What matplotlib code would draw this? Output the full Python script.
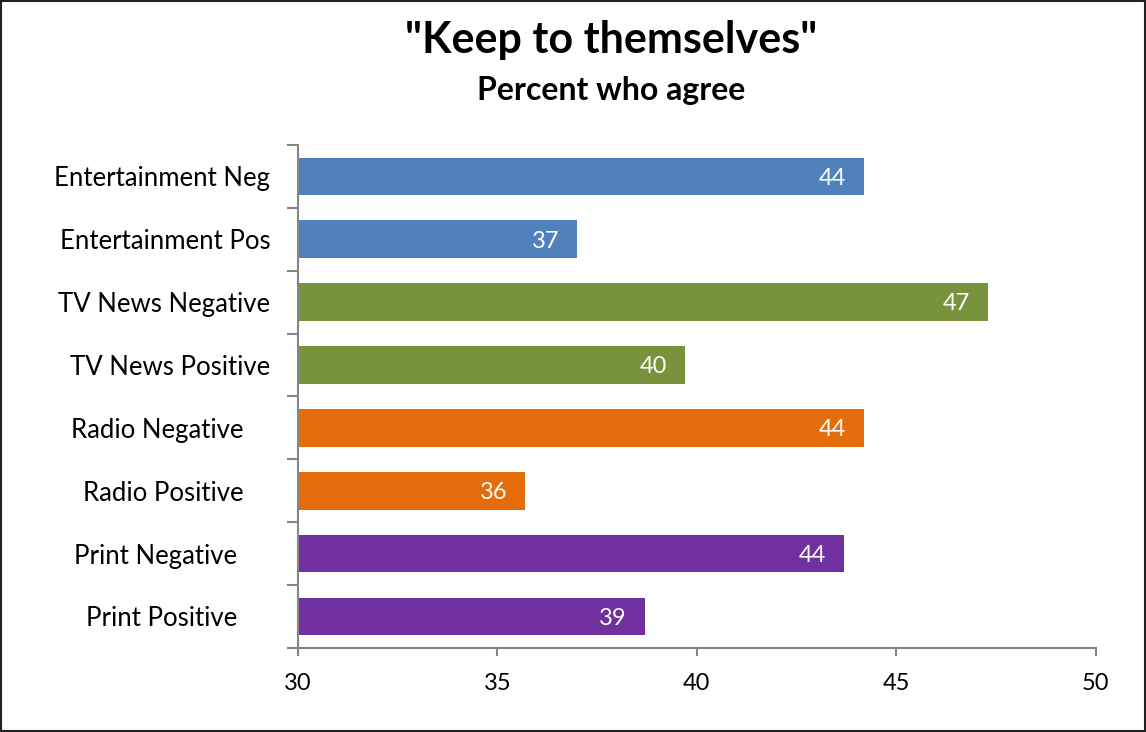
import matplotlib
matplotlib.use("Agg")
import matplotlib.pyplot as plt
from matplotlib.patches import Rectangle

plt.rcParams['font.family'] = ['Lato', 'DejaVu Sans']

# data (top to bottom)
categories = ["Entertainment Neg", "Entertainment Pos", "TV News Negative", "TV News Positive",
              "Radio Negative    ", "Radio Positive    ", "Print Negative     ", "Print Positive     "]
values = [44.2, 37.0, 47.3, 39.7, 44.2, 35.7, 43.7, 38.7]
colors = ["#4F81BD", "#4F81BD", "#77933C", "#77933C",
          "#E46C0A", "#E46C0A", "#7030A0", "#7030A0"]
xticks = [30, 35, 40, 45, 50]

fig = plt.figure(figsize=(11.46, 7.32), dpi=100)
ax = fig.add_axes([0.260, 0.115, 0.696, 0.687])

ypos = list(range(len(categories)))[::-1]
bars = ax.barh(ypos, [v - 30 for v in values], left=30, height=0.6, color=colors)

for y, v in zip(ypos, values):
    ax.text(v - 0.45, y - 0.03, "%d" % round(v), ha="right", va="center",
            color="white", fontsize=17)

ax.set_xlim(30, 50)
ax.set_ylim(-0.5, len(categories) - 0.5)
ax.set_xticks(xticks)
ax.set_xticklabels([str(t) for t in xticks], fontsize=17)

# category labels between boundary ticks
ax.set_yticks([y - 0.5 for y in range(len(categories) + 1)])
ax.set_yticklabels([])
ax.set_yticks(ypos, minor=True)
ax.set_yticklabels(categories, minor=True, fontsize=18.5)
ax.tick_params(axis="y", which="minor", length=0, pad=20)
ax.tick_params(axis="y", which="major", length=8, color="#868686", width=1.5)
ax.tick_params(axis="x", length=6, color="#868686", width=1.5, pad=12)

for s in ["top", "right"]:
    ax.spines[s].set_visible(False)
for s in ["left", "bottom"]:
    ax.spines[s].set_color("#868686")
    ax.spines[s].set_linewidth(1.5)

fig.text(0.533, 0.946, '"Keep to themselves"', ha="center", va="center",
         fontsize=31, fontweight="bold")
fig.text(0.533, 0.876, "Percent who agree", ha="center", va="center",
         fontsize=23, fontweight="bold")

# outer border of the chart area
fig.patches.append(Rectangle((0.001, 0.001), 0.998, 0.998, transform=fig.transFigure,
                             fill=False, edgecolor="#222222", linewidth=1.5))

fig.savefig("out.png", dpi=100)
